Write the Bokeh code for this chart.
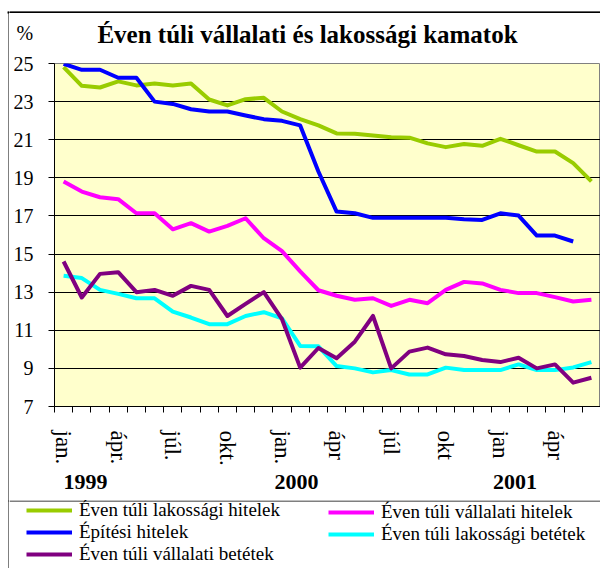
from bokeh.plotting import figure
from bokeh.layouts import row, column
from bokeh.models import (FixedTicker, Legend, LegendItem, Range1d, LinearAxis)
from bokeh.core.properties import value
from bokeh.embed import file_html
from bokeh.resources import INLINE

# ---------------- data ----------------
tick_positions = [0, 3, 6, 9, 12, 15, 18, 21, 24, 27]
tick_labels = ["jan.", "ápr.", "júl.", "okt.", "jan.", "ápr", "júl", "okt", "jan", "ápr"]
years = ["1999", "2000", "2001"]
year_positions = [1.2, 12.8, 24.8]
months = list(range(30))
title_text = "Éven túli vállalati és lakossági kamatok"
unit_text = "%"

nan = float("nan")
lak_hitel = [24.81, 23.83, 23.74, 24.06, 23.85, 23.95, 23.85, 23.95, 23.11, 22.80,
             23.13, 23.20, 22.48, 22.08, 21.75, 21.33, 21.31, 21.22, 21.13, 21.11,
             20.81, 20.61, 20.78, 20.68, 21.05, 20.71, 20.38, 20.38, 19.77, 18.81]
epitesi = [24.98, 24.67, 24.67, 24.25, 24.25, 23.00, 22.88, 22.60, 22.48, 22.48,
           22.27, 22.08, 21.99, 21.75, 19.33, 17.23, 17.14, 16.90, 16.90, 16.90,
           16.90, 16.90, 16.83, 16.79, 17.14, 17.02, 15.97, 15.97, 15.66, nan]
vall_hitel = [18.81, 18.28, 17.98, 17.88, 17.14, 17.14, 16.30, 16.62, 16.18, 16.48,
              16.88, 15.83, 15.15, 14.09, 13.10, 12.81, 12.60, 12.68, 12.28, 12.60,
              12.42, 13.12, 13.54, 13.46, 13.12, 12.95, 12.95, 12.74, 12.51, 12.60]
lak_betet = [13.86, 13.74, 13.12, 12.91, 12.68, 12.68, 11.98, 11.67, 11.32, 11.32,
             11.75, 11.95, 11.63, 10.18, 10.16, 9.12, 9.00, 8.79, 8.91, 8.68,
             8.68, 9.04, 8.91, 8.91, 8.91, 9.21, 8.91, 8.91, 9.05, 9.33]
vall_betet = [14.61, 12.72, 13.96, 14.05, 13.00, 13.12, 12.81, 13.33, 13.12, 11.75,
              12.39, 13.00, 11.58, 9.04, 10.07, 9.53, 10.40, 11.75, 9.00, 9.88,
              10.09, 9.74, 9.65, 9.44, 9.33, 9.56, 9.00, 9.21, 8.25, 8.51]

names = ["Éven túli lakossági hitelek", "Éven túli vállalati hitelek", "Építési hitelek",
         "Éven túli lakossági betétek", "Éven túli vállalati betétek"]
colors = ["#99CC00", "#FF00FF", "#0000FF", "#00FFFF", "#800080"]
series = [lak_hitel, vall_hitel, epitesi, lak_betet, vall_betet]

# ---------------- layout constants (page pixels) ----------------
PAGE_W, PAGE_H = 600, 568
STRIP_W = 9                 # left strip carrying the outer frame line
TOP_H = 13                  # band whose last pixel rows are the outer frame top edge
HEAD_H = 37                 # title band (page y 13..50)
MAIN_H = 450                # chart band (page y 50..500)
LEG_H = PAGE_H - TOP_H - HEAD_H - MAIN_H
COL_W = PAGE_W - STRIP_W
SERIF = "Liberation Serif"

def deco_fig(w, h, x0, x1, y0, y1, bg="white", top_border=0):
    # band figure whose frame is (nearly) the whole canvas; y runs upward
    f = figure(width=w, height=h, output_backend="svg", toolbar_location=None,
               title=None, x_range=Range1d(x0, x1), y_range=Range1d(y0, y1),
               x_axis_type=None, y_axis_type=None, min_border=0,
               min_border_left=0, min_border_right=0, min_border_top=top_border,
               min_border_bottom=0, outline_line_color=None, background_fill_color=bg,
               border_fill_color="white", frame_align=False)
    f.xgrid.visible = False
    f.ygrid.visible = False
    return f

# ---- left strip: outer frame left edge (1px black bar) ----
strip = deco_fig(STRIP_W, PAGE_H, 0, STRIP_W, 0, PAGE_H)
strip.quad(left=[8, 7, 8], right=[9, 9, 9],
           top=[PAGE_H - 11, PAGE_H - 11, PAGE_H - 500],
           bottom=[0, PAGE_H - 13, PAGE_H - 501],
           fill_color="black", line_color=None)

# ---- top band: outer frame top edge (frame + quad, 2px) ----
top = deco_fig(COL_W, TOP_H, 0, 1, 0, 2, bg="black", top_border=TOP_H - 2)
top.quad(left=[0], right=[1], top=[2], bottom=[0], fill_color="black", line_color=None)

# ---- head: title and unit ----
head = deco_fig(COL_W, HEAD_H, STRIP_W, PAGE_W, 0, HEAD_H)
head.text(x=[307], y=[50 - 33.6], text=[title_text], text_align="center",
          text_baseline="middle", text_font=value(SERIF), text_font_style="bold",
          text_font_size="25px", text_color="black")
head.text(x=[16], y=[50 - 32.5], text=[unit_text], text_align="left",
          text_baseline="middle", text_font=value(SERIF),
          text_font_size="20px", text_color="black")

# ---- main chart ----
FL = 54 - STRIP_W
FT = 63 - 50
FB = MAIN_H - (406 - 50)
p = figure(width=COL_W, height=MAIN_H, output_backend="svg", toolbar_location=None,
           title=None, x_range=Range1d(-0.5, 29.5), y_range=Range1d(7, 25),
           min_border_left=FL, min_border_right=0, min_border_top=FT,
           min_border_bottom=FB, background_fill_color="#FFFFCC",
           border_fill_color="white", outline_line_color="#808080", frame_align=False)

for ys, c in zip(series, colors):
    p.line(months, ys, line_color=c, line_width=4, line_join="round")

p.xgrid.visible = False
p.ygrid.ticker = FixedTicker(ticks=[9, 11, 13, 15, 17, 19, 21, 23])
p.ygrid.grid_line_color = "black"
p.ygrid.grid_line_width = 1

ya = p.yaxis[0]
ya.ticker = FixedTicker(ticks=[7, 9, 11, 13, 15, 17, 19, 21, 23, 25])
ya.axis_line_color = "black"
ya.major_tick_line_color = "black"
ya.major_tick_out = 6
ya.major_tick_in = 0
ya.minor_tick_line_color = None
ya.major_label_standoff = 15
ya.major_label_text_font = SERIF
ya.major_label_text_font_size = "20px"
ya.major_label_text_color = "black"

xa = p.xaxis[0]
xa.ticker = FixedTicker(ticks=tick_positions,
                        minor_ticks=[m - 0.5 for m in months] + [months[-1] + 0.5])
xa.major_label_overrides = {t: l for t, l in zip(tick_positions, tick_labels)}
xa.axis_line_color = "black"
xa.major_tick_line_color = None
xa.major_tick_out = 6
xa.major_tick_in = 0
xa.minor_tick_line_color = "black"
xa.minor_tick_out = 6
xa.minor_tick_in = 0
xa.major_label_orientation = "vertical"
xa.major_label_standoff = 18
xa.major_label_text_font = SERIF
xa.major_label_text_font_size = "23px"
xa.major_label_text_color = "black"

year_axis = LinearAxis(ticker=FixedTicker(ticks=year_positions),
                       major_label_overrides={t: y for t, y in zip(year_positions, years)},
                       axis_line_color=None, major_tick_line_color=None,
                       minor_tick_line_color=None, major_tick_out=0, major_tick_in=0,
                       major_label_standoff=6, major_label_text_font=SERIF,
                       major_label_text_font_style="bold", major_label_text_font_size="22px",
                       major_label_text_color="black")
p.add_layout(year_axis, "below")

# ---- legend band ----
leg = deco_fig(COL_W, LEG_H, STRIP_W, PAGE_W, 0, LEG_H)
leg.quad(left=[STRIP_W], right=[PAGE_W], top=[LEG_H], bottom=[LEG_H - 1],
         fill_color="black", line_color=None)
# legend renderers: same series, shifted outside this band's visible range
leg_renderers = [leg.line(months, [v + 100 for v in ys], line_color=c, line_width=4)
                 for ys, c in zip(series, colors)]

ROW = 20
SP = -2
def make_legend(idx, vx, vy):
    items = [LegendItem(label=names[i], renderers=[leg_renderers[i]]) for i in idx]
    lg = Legend(items=items, location=(vx, vy), orientation="vertical",
                padding=0, margin=0, spacing=SP, label_standoff=7,
                glyph_width=46, glyph_height=ROW, label_height=ROW,
                label_text_font=SERIF, label_text_font_size="19px",
                label_text_baseline="middle", label_text_color="black",
                border_line_color=None, background_fill_alpha=0)
    leg.add_layout(lg, "center")

make_legend([0, 2, 4], 26 - STRIP_W, 3)
make_legend([1, 3], 328 - STRIP_W, 23)

layout = row(strip, column(top, head, p, leg, spacing=0), spacing=0)
open("out.html", "w").write(file_html(layout, INLINE))
